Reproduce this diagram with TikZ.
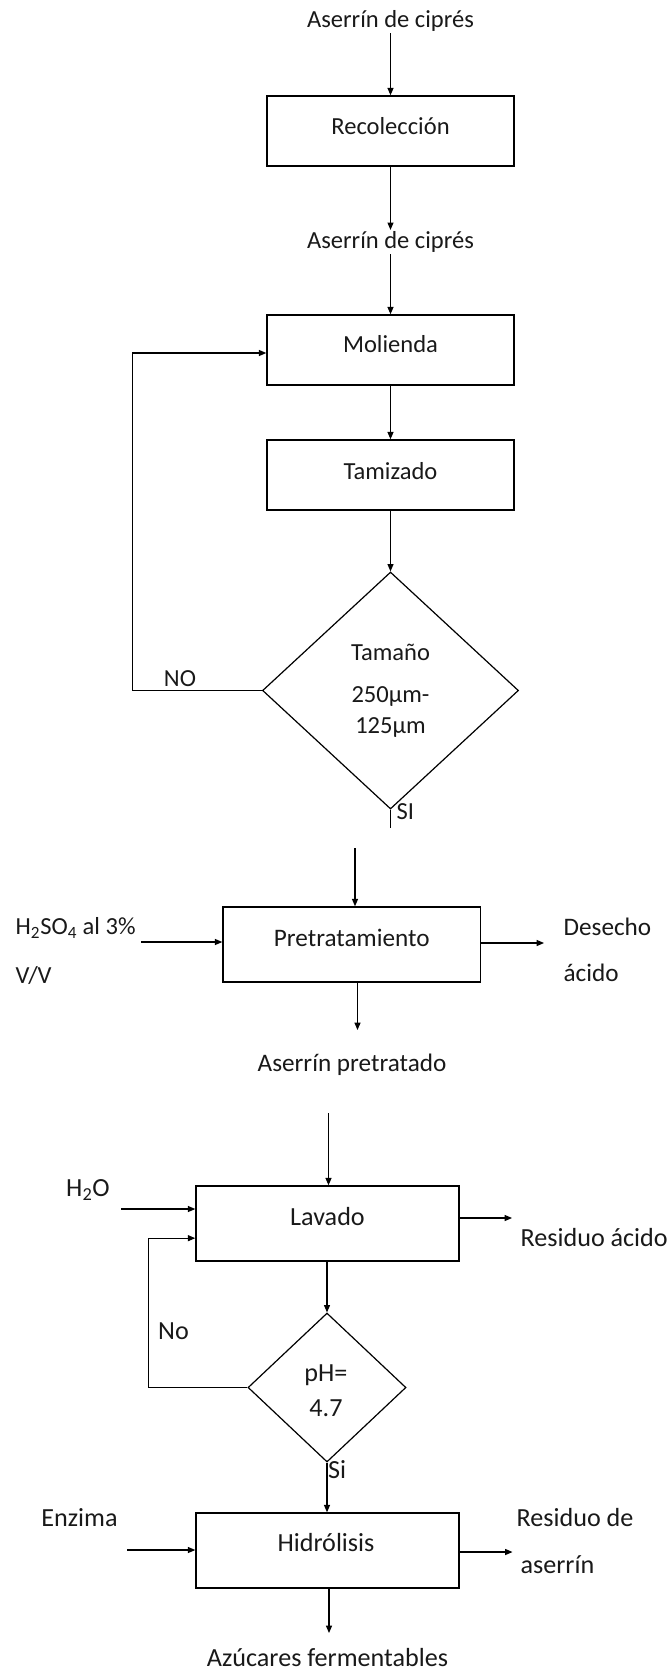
\documentclass[tikz,border=0pt]{standalone}
\usepackage{fontspec}
\setmainfont{Carlito}
\usetikzlibrary{shapes.geometric,arrows.meta}
\begin{document}
\begin{tikzpicture}[x=0.75pt,y=-0.75pt,
  font=\fontsize{18.4}{22}\selectfont,
  box/.style={draw, line width=1.1pt, rectangle, inner sep=0pt},
  dec/.style={draw, line width=0.9pt, diamond, inner sep=0pt},
  lbl/.style={inner sep=1pt, text=black!90},
  lblb/.style={lbl, font=\fontsize{18.9}{22}\selectfont},
  lblc/.style={lbl, font=\fontsize{19.6}{23}\selectfont},
  arr/.style={line width=0.8pt, -{Triangle[length=5.5pt,width=4.5pt]}},
  ln/.style={line width=0.8pt}]
\useasboundingbox (0,0) rectangle (669,1673);

% --- top section
\node[lbl] (t1) at (390.5,21) {Aserrín de ciprés};
\node[box, minimum width=185.25pt, minimum height=52.5pt] (rec) at (390.5,131) {};
\node[lbl] (recT) at (390.5,126) {Recolección};
\node[lbl] (t2) at (390.5,242) {Aserrín de ciprés};
\node[box, minimum width=185.25pt, minimum height=52.5pt] (mol) at (390.5,350) {};
\node[lbl] (molT) at (390.5,344) {Molienda};
\node[box, minimum width=185.25pt, minimum height=52.5pt] (tam) at (390.5,475) {};
\node[lbl] (tamT) at (390.5,471) {Tamizado};
\node[dec, minimum width=192pt, minimum height=177.75pt] (dia1) at (390.5,690.5) {};
\node[lbl] (d1a) at (390.5,652) {Tamaño};
\node[lbl] (d1b) at (390.5,697) {250µm-};
\node[lbl] (d1c) at (390.5,728) {125µm};
\node[lbl] (no1) at (180,679) {NO};
\node[lbl, anchor=west] (si1) at (395,812) {SI};
\coordinate (siend) at (390.5,828);

\draw[arr] (t1) -- (rec);
\draw[arr] (rec) -- (t2);
\draw[arr] (t2) -- (mol);
\draw[arr] (mol) -- (tam);
\draw[arr] (tam) -- (dia1);
\draw[arr] (dia1.west) -- ++(-129,0) |- ([yshift=-2.25pt]mol.west);
\draw[ln] (dia1.south) -- (siend);

% --- pretratamiento
\node[box, minimum width=193.1pt, minimum height=56.25pt] (pre) at (351.75,944.5) {};
\node[lblb] (preT) at (351.75,938) {Pretratamiento};
\coordinate (prein) at (355,848);
\draw[arr] (prein) -- (prein |- pre.north);
\node[lbl, anchor=west] (acid1) at (14,928) {H\textsubscript{2}SO\textsubscript{4} al 3\%};
\node[lbl, anchor=west] (acid2) at (14,975) {V/V};
\coordinate (acidin) at (141,942);
\draw[arr] (acidin) -- (acidin -| pre.west);
\coordinate (desout) at (544,943);
\draw[arr] (desout -| pre.east) -- (desout);
\node[lblb, anchor=west] (des1) at (562,927) {Desecho};
\node[lblb, anchor=west] (des2) at (562,973) {ácido};
\coordinate (preout) at (357.5,1030);
\draw[arr] (preout |- pre.south) -- (preout);
\node[lblb] (pretT) at (352,1065) {Aserrín pretratado};

% --- lavado
\node[box, minimum width=197.25pt, minimum height=56.25pt] (lav) at (327.5,1223.5) {};
\node[lblc] (lavT) at (327.5,1217) {Lavado};
\coordinate (lavin) at (328.5,1113);
\draw[arr] (lavin) -- (lavin |- lav.north);
\node[lblc] (h2o) at (88,1190) {H\textsubscript{2}O};
\coordinate (h2oin) at (121,1209);
\draw[arr] (h2oin) -- (h2oin -| lav.west);
\coordinate (resout) at (512,1218);
\draw[arr] (resout -| lav.east) -- (resout);
\node[lblc, anchor=west] (res1) at (519,1238) {Residuo ácido};

\node[dec, minimum width=118.5pt, minimum height=111.75pt] (ph) at (327,1387.5) {};
\node[lblc] (pha) at (326,1375) {pH=};
\node[lblc] (phb) at (326,1408) {4.7};
\draw[arr] (lav.south -| ph.north) -- (ph.north);
\draw[arr] (ph.west) -- ++(-99,0) |- ([yshift=-11pt]lav.west);
\node[lblc] (no2) at (173.5,1331) {No};
\node[lblc, anchor=west] (si2) at (326.5,1470) {Si};

% --- hidrolisis
\node[box, minimum width=197.25pt, minimum height=56.25pt] (hid) at (327.5,1550.5) {};
\node[lblc] (hidT) at (326,1543) {Hidrólisis};
\draw[arr] (ph.south) -- (ph.south |- hid.north);
\node[lblc] (enz) at (79.5,1518) {Enzima};
\coordinate (enzin) at (127,1550);
\draw[arr] (enzin) -- (enzin -| hid.west);
\coordinate (hidout) at (512.5,1552);
\draw[arr] (hidout -| hid.east) -- (hidout);
\node[lblc, anchor=west] (rd1) at (515,1518) {Residuo de};
\node[lblc, anchor=west] (rd2) at (519,1565) {aserrín};
\coordinate (azout) at (329,1633);
\draw[arr] (azout |- hid.south) -- (azout);
\node[lblc] (az) at (327.5,1658) {Azúcares fermentables};
\end{tikzpicture}
\end{document}
